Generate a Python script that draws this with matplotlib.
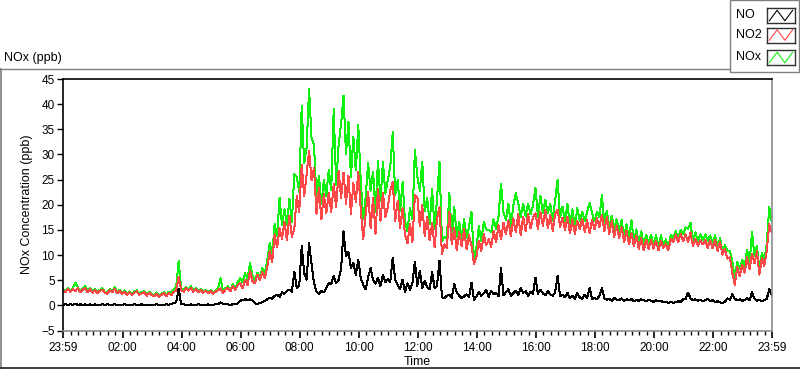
import numpy as np
import matplotlib
matplotlib.use("Agg")
import matplotlib.pyplot as plt
from matplotlib.patches import Rectangle
from matplotlib.lines import Line2D

plt.rcParams['font.family'] = ['Liberation Sans', 'DejaVu Sans']

# 5-minute samples starting 23:59 (previous day), one row per hour
no = [
    0.1, 0.2, 0.1, 0.2, 0.1, 0.3, 0.1, 0.2, 0.1, 0.2, 0.1, 0.2,
    0.1, 0.2, 0.1, 0.1, 0.2, 0.1, 0.2, 0.1, 0.1, 0.2, 0.1, 0.1,
    0.1, 0.2, 0.1, 0.1, 0.1, 0.2, 0.1, 0.1, 0.2, 0.1, 0.1, 0.1,
    0.1, 0.1, 0.2, 0.1, 0.1, 0.1, 0.2, 0.1, 0.3, 0.5, 0.6, 3.3,
    0.3, 0.2, 0.1, 0.1, 0.2, 0.1, 0.1, 0.2, 0.1, 0.1, 0.1, 0.2,
    0.1, 0.1, 0.2, 0.2, 0.6, 0.3, 0.2, 0.2, 0.1, 0.2, 0.2, 0.4,
    0.9, 1.1, 1.2, 1.1, 1.2, 1.0, 0.4, 0.3, 0.5, 0.6, 0.9, 1.2,
    1.5, 1.3, 1.9, 2.1, 1.7, 2.6, 2.3, 2.9, 3.1, 2.7, 6.7, 3.5,
    3.9, 11.8, 6.4, 5.1, 12.4, 8.2, 4.4, 2.8, 2.3, 2.9, 2.6, 3.4,
    4.5, 4.2, 5.9, 4.4, 5.1, 7.3, 14.7, 9.8, 10.6, 7.4, 8.5, 6.1,
    9.1, 5.4, 4.1, 3.2, 5.6, 7.4, 5.1, 4.3, 5.5, 3.8, 6.0, 4.6,
    5.2, 4.6, 9.5, 5.0, 4.1, 3.2, 5.1, 2.6, 4.4, 3.1, 4.4, 8.7,
    3.9, 6.9, 3.4, 4.8, 3.6, 3.2, 6.7, 3.4, 3.9, 8.9, 1.6, 1.4,
    1.9, 2.1, 1.5, 4.2, 2.6, 1.9, 1.4, 1.8, 2.2, 1.6, 4.5, 1.1,
    1.8, 2.7, 1.9, 2.4, 3.1, 1.7, 2.9, 2.2, 2.5, 1.8, 7.5, 2.0,
    2.6, 3.2, 1.9, 2.4, 2.9, 2.1, 3.5, 2.5, 2.8, 1.9, 2.7, 2.3,
    5.5, 2.3, 3.1, 2.4, 2.0, 2.8, 2.2, 1.9, 2.6, 5.9, 1.8, 2.1,
    1.6, 2.5, 1.4, 1.9, 1.3, 2.4, 1.6, 1.3, 2.1, 1.5, 3.5, 1.2,
    1.5, 1.2, 1.9, 3.4, 1.4, 1.1, 1.3, 0.9, 1.5, 1.1, 1.0, 1.4,
    0.9, 1.2, 1.0, 1.3, 0.8, 1.1, 0.9, 1.2, 1.0, 0.8, 1.1, 0.9,
    0.7, 1.0, 0.8, 0.9, 0.6, 0.7, 0.5, 0.7, 0.5, 0.6, 0.8, 0.7,
    1.2, 1.3, 2.5, 1.4, 1.0, 1.2, 0.9, 1.1, 0.8, 1.0, 1.3, 0.9,
    1.0, 0.7, 0.8, 0.6, 0.5, 0.7, 1.4, 1.1, 2.2, 1.3, 1.0, 1.2,
    0.9, 1.1, 1.4, 1.0, 2.6, 1.3, 0.9, 1.1, 0.8, 1.0, 1.3, 3.2,
    2.0,
]

no2 = [
    3.0, 2.6, 3.3, 2.7, 3.2, 2.8, 3.4, 2.6, 3.1, 3.5, 2.6, 3.2,
    2.5, 3.0, 2.4, 2.9, 3.1, 2.5, 2.3, 3.0, 2.6, 3.3, 2.4, 2.9,
    2.3, 2.7, 2.1, 2.6, 2.0, 2.5, 2.8, 2.1, 2.4, 2.6, 1.9, 2.5,
    2.0, 1.8, 2.3, 1.7, 2.1, 2.4, 1.8, 2.5, 2.0, 2.7, 2.9, 5.7,
    3.0, 2.7, 3.4, 2.9, 3.5, 2.7, 3.3, 2.6, 3.0, 2.5, 2.9, 2.4,
    2.8, 2.3, 2.7, 3.0, 3.4, 2.4, 3.1, 3.5, 2.8, 3.8, 3.1, 4.0,
    4.4, 3.4, 5.1, 4.0, 6.9, 4.8, 4.4, 6.1, 5.0, 6.6, 5.4, 7.5,
    10.8, 8.6, 14.1, 11.5, 15.3, 13.2, 16.6, 12.9, 17.8, 13.6, 15.2, 21.8,
    18.6, 28.0, 21.7, 26.1, 30.7, 24.9, 27.3, 18.2, 23.4, 17.1, 22.1, 18.3,
    22.4, 18.6, 24.1, 19.5, 26.8, 21.3, 26.4, 20.2, 25.8, 18.1, 24.3, 20.6,
    26.5, 19.1, 13.1, 18.2, 22.6, 15.3, 21.4, 14.2, 23.1, 16.8, 22.4, 17.5,
    19.6, 22.9, 24.5, 16.8, 20.7, 15.4, 19.3, 13.9, 12.4, 16.2, 12.6, 22.0,
    21.5, 15.8, 19.9, 13.8, 17.6, 12.9, 16.4, 11.6, 17.2, 19.5, 10.2, 12.1,
    11.4, 18.6, 12.1, 15.3, 10.9, 14.6, 11.8, 15.2, 11.1, 13.9, 12.0, 8.2,
    9.6, 12.9, 10.8, 14.1, 11.9, 13.2, 11.6, 14.8, 12.6, 15.9, 13.1, 16.4,
    14.2, 16.9, 13.7, 17.3, 14.5, 18.1, 13.9, 17.6, 14.8, 18.2, 15.3, 17.5,
    18.3, 15.2, 18.6, 15.8, 18.9, 15.4, 17.9, 14.8, 18.2, 19.0, 15.6, 17.4,
    14.9, 17.6, 14.3, 17.1, 14.2, 16.8, 15.1, 17.2, 14.6, 16.9, 14.3, 17.0,
    15.1, 17.3, 15.6, 18.0, 14.7, 17.5, 14.2, 16.8, 13.6, 15.9, 13.4, 15.5,
    12.6, 14.8, 12.1, 14.3, 11.8, 13.9, 11.2, 13.4, 10.9, 13.1, 11.2, 13.0,
    11.3, 12.8, 11.0, 12.9, 11.4, 12.3, 10.9, 13.2, 12.6, 14.1, 12.5, 14.2,
    12.8, 14.1, 12.6, 14.5, 11.7, 13.2, 11.8, 12.9, 12.1, 13.0, 11.4, 12.9,
    11.3, 13.1, 10.8, 12.6, 10.1, 11.2, 9.3, 9.6, 6.4, 4.1, 7.6, 5.9,
    8.1, 6.5, 9.6, 7.2, 10.3, 8.4, 10.8, 6.1, 9.5, 7.8, 10.9, 16.1,
    14.5,
]

nox = [
    3.2, 2.9, 3.5, 3.0, 3.4, 4.5, 3.6, 2.9, 3.3, 3.8, 2.8, 3.5,
    2.7, 3.3, 2.6, 3.1, 3.4, 2.7, 2.6, 3.2, 2.8, 3.6, 2.6, 3.1,
    2.5, 3.0, 2.3, 2.8, 2.2, 2.8, 3.0, 2.3, 2.7, 2.8, 2.1, 2.7,
    2.2, 2.0, 2.6, 1.9, 2.3, 2.6, 2.1, 2.7, 2.4, 3.3, 3.6, 8.9,
    3.4, 3.0, 3.6, 3.1, 3.8, 2.9, 3.5, 2.9, 3.2, 2.7, 3.1, 2.7,
    3.0, 2.5, 3.0, 3.3, 5.4, 2.8, 3.4, 3.8, 3.0, 4.2, 3.4, 4.6,
    5.4, 4.6, 6.4, 5.2, 8.5, 5.9, 4.9, 6.5, 5.6, 7.4, 6.4, 8.9,
    12.4, 10.0, 16.2, 13.7, 21.4, 15.9, 19.1, 16.0, 21.2, 16.5, 26.1, 25.6,
    22.6, 39.7, 28.2, 31.4, 43.1, 33.2, 32.0, 21.1, 25.8, 20.1, 24.9, 21.8,
    27.0, 22.9, 39.0, 24.0, 32.0, 36.0, 41.7, 30.1, 36.5, 25.6, 33.5, 26.8,
    35.8, 24.6, 17.2, 21.5, 28.3, 22.8, 26.6, 18.6, 28.7, 20.7, 28.5, 22.2,
    24.9, 27.6, 34.4, 21.9, 24.9, 18.7, 24.5, 16.6, 14.7, 19.4, 17.1, 30.9,
    25.6, 22.8, 28.5, 18.7, 21.3, 16.2, 23.2, 15.1, 21.2, 28.5, 12.8, 13.6,
    13.4, 22.4, 13.7, 19.6, 13.6, 16.6, 13.3, 17.1, 13.4, 15.6, 18.6, 9.2,
    11.5, 15.7, 12.8, 16.6, 15.1, 15.0, 14.6, 17.1, 15.2, 17.8, 24.2, 18.5,
    16.9, 20.2, 15.7, 19.8, 22.3, 20.3, 17.5, 20.2, 17.7, 20.2, 18.1, 19.9,
    23.4, 17.6, 21.8, 18.3, 21.0, 18.3, 20.2, 16.8, 20.9, 25.0, 17.5, 19.6,
    16.6, 20.2, 15.8, 19.1, 15.6, 19.3, 16.8, 18.6, 16.8, 18.5, 20.4, 18.3,
    16.7, 18.6, 17.6, 21.9, 16.2, 18.7, 15.6, 17.8, 15.2, 17.1, 14.5, 17.0,
    13.6, 16.1, 13.2, 16.9, 12.7, 15.1, 12.2, 14.7, 12.0, 14.0, 12.4, 14.0,
    12.1, 13.9, 11.9, 13.9, 12.1, 13.1, 11.5, 14.0, 13.2, 14.8, 13.4, 15.0,
    14.1, 15.5, 15.2, 16.4, 12.8, 14.5, 12.8, 14.1, 13.0, 14.1, 12.8, 13.9,
    12.4, 13.9, 11.7, 13.3, 10.7, 12.0, 10.8, 10.8, 8.7, 5.5, 8.7, 7.2,
    9.1, 7.7, 11.1, 8.3, 14.6, 9.8, 11.8, 7.3, 10.4, 8.9, 12.3, 19.5,
    16.6,
]

tick_labels = ["23:59", "02:00", "04:00", "06:00", "08:00", "10:00", "12:00",
               "14:00", "16:00", "18:00", "20:00", "22:00", "23:59"]

W, H = 800, 369
fig = plt.figure(figsize=(8, 3.69), dpi=100)

def fx(px):
    return px / W

def fy(py):
    return 1 - py / H

# outer panel
fig.add_artist(Line2D([fx(0.5), fx(0.5)], [fy(69), fy(368)], color='#808080', lw=1.2))
fig.add_artist(Line2D([fx(0), fx(730)], [fy(69), fy(69)], color='#808080', lw=1))
fig.add_artist(Line2D([fx(0), fx(800)], [fy(367.5), fy(367.5)], color='#202020', lw=1.2))
fig.text(fx(4), fy(58), "NOx (ppb)", fontsize=9, va='center', ha='left')

# legend box
fig.add_artist(Rectangle((fx(730), fy(72)), fx(69), 72 / H, fill=False,
                         edgecolor='#808080', lw=1))
names = ["NO", "NO2", "NOx"]
colors = ['black', '#ff4848', '#12f012']
rows = [15.5, 35, 57.5]
for name, c, yc in zip(names, colors, rows):
    fig.text(fx(736), fy(yc), name, fontsize=9, va='center', ha='left')
    lax = fig.add_axes([fx(767), fy(yc + 7.5), fx(28), 15 / H])
    lax.plot([0, 1, 2, 3], [0.15, 0.85, 0.15, 0.85], color=c, lw=0.8)
    lax.set_xlim(-0.3, 3.3)
    lax.set_ylim(0, 1)
    lax.set_xticks([])
    lax.set_yticks([])
    for s in lax.spines.values():
        s.set_color('#303030')
        s.set_linewidth(1)

# main plot
ax = fig.add_axes([fx(63), fy(330.5), fx(771.7 - 63), (330.5 - 79) / H])
t = np.arange(len(no)) * 5 / 60.0
ax.plot(t, nox, color=colors[2], lw=0.72, antialiased=False)
ax.plot(t, no2, color=colors[1], lw=0.72, antialiased=False)
ax.plot(t, no, color=colors[0], lw=0.72, antialiased=False)

ax.set_xlim(0, 24)
ax.set_ylim(-5, 45)
ax.set_yticks(np.arange(-5, 46, 5))
major = [0] + [h + 1 / 60 for h in range(2, 23, 2)] + [24]
ax.set_xticks(major)
ax.set_xticklabels(tick_labels)
minor = [k * 0.25 + 1 / 60 for k in range(1, 96) if k % 8 != 0]
ax.set_xticks(minor, minor=True)
ax.tick_params(axis='x', which='major', length=5, width=1.2, labelsize=8.5, pad=3)
ax.tick_params(axis='x', which='minor', length=3, width=1)
ax.tick_params(axis='y', length=4, width=1, labelsize=8.5, pad=2)

ax.spines['left'].set_color('black')
ax.spines['top'].set_color('black')
ax.spines['right'].set_color('#8c8c8c')
ax.spines['bottom'].set_color('#8c8c8c')
for s in ax.spines.values():
    s.set_linewidth(1.2)

ax.set_ylabel("NOx Concentration (ppb)", fontsize=9, labelpad=6)
ax.set_xlabel("Time", fontsize=9, labelpad=2)

fig.savefig("out.png", dpi=100)
